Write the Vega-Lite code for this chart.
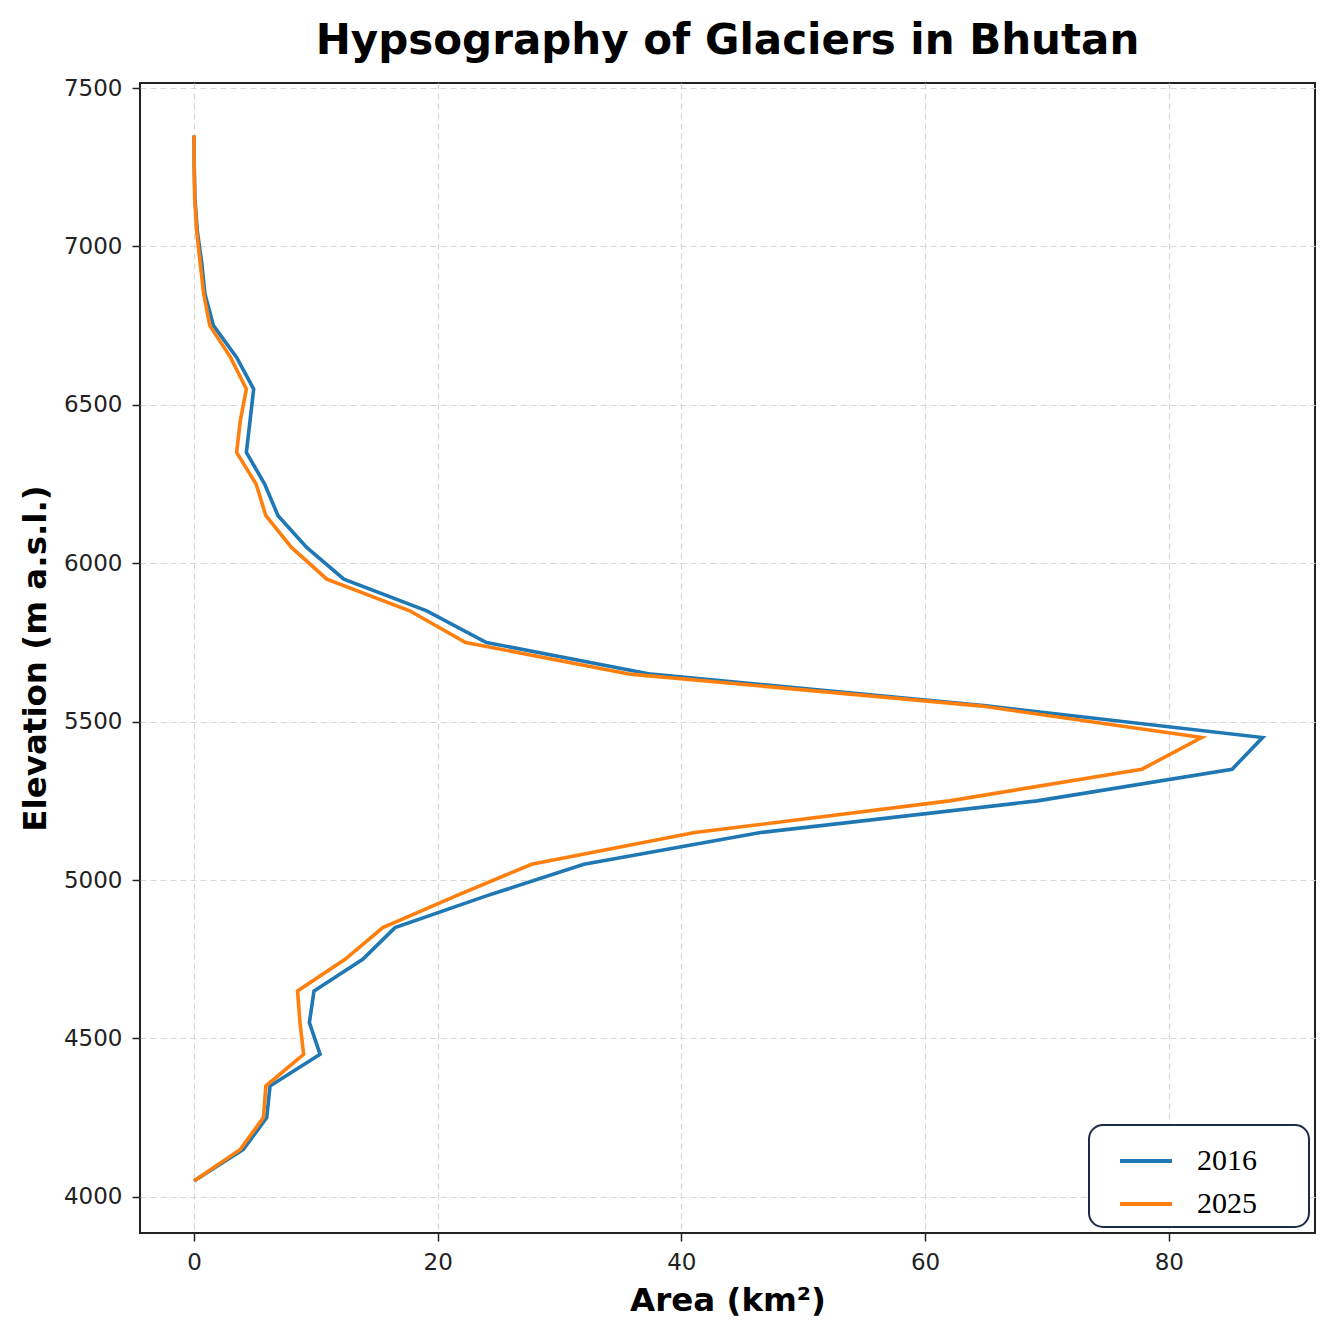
{
  "$schema": "https://vega.github.io/schema/vega-lite/v6.json",
  "autosize": "none",
  "width": 1175,
  "height": 1150,
  "padding": {"left": 140, "top": 83, "right": 26, "bottom": 95},
  "background": "white",
  "title": {
    "text": "Hypsography of Glaciers in Bhutan",
    "font": "DejaVu Sans",
    "fontSize": 42,
    "fontWeight": "bold",
    "color": "black",
    "anchor": "middle",
    "offset": 14
  },
  "config": {
    "view": {"stroke": "#222222", "strokeWidth": 2},
    "axis": {
      "labelFont": "DejaVu Sans",
      "labelFontSize": 23,
      "labelColor": "#222222",
      "titleFont": "DejaVu Sans",
      "titleFontSize": 32.5,
      "titleFontWeight": "bold",
      "titleColor": "black",
      "tickColor": "#222222",
      "tickSize": 8,
      "tickWidth": 1.5,
      "labelPadding": 10,
      "domain": false,
      "grid": true,
      "gridColor": "#d6d6d6",
      "gridDash": [6, 4],
      "gridWidth": 1.2
    },
    "legend": {
      "strokeColor": "#1c2b4a",
      "strokeWidth": 2,
      "cornerRadius": 14,
      "fillColor": "white"
    }
  },
  "data": {
    "values": [
      {"elev": 4050, "year": "2016", "area": 0.0},
      {"elev": 4150, "year": "2016", "area": 4.05},
      {"elev": 4250, "year": "2016", "area": 5.97},
      {"elev": 4350, "year": "2016", "area": 6.24},
      {"elev": 4450, "year": "2016", "area": 10.35},
      {"elev": 4550, "year": "2016", "area": 9.47},
      {"elev": 4650, "year": "2016", "area": 9.85},
      {"elev": 4750, "year": "2016", "area": 13.85},
      {"elev": 4850, "year": "2016", "area": 16.5},
      {"elev": 4950, "year": "2016", "area": 24.0},
      {"elev": 5050, "year": "2016", "area": 32.0},
      {"elev": 5150, "year": "2016", "area": 46.5},
      {"elev": 5250, "year": "2016", "area": 69.2},
      {"elev": 5350, "year": "2016", "area": 85.2},
      {"elev": 5450, "year": "2016", "area": 87.7},
      {"elev": 5550, "year": "2016", "area": 65.0},
      {"elev": 5650, "year": "2016", "area": 37.5},
      {"elev": 5750, "year": "2016", "area": 24.0},
      {"elev": 5850, "year": "2016", "area": 19.1},
      {"elev": 5950, "year": "2016", "area": 12.3},
      {"elev": 6050, "year": "2016", "area": 9.25},
      {"elev": 6150, "year": "2016", "area": 6.9},
      {"elev": 6250, "year": "2016", "area": 5.8},
      {"elev": 6350, "year": "2016", "area": 4.3},
      {"elev": 6450, "year": "2016", "area": 4.6},
      {"elev": 6550, "year": "2016", "area": 4.9},
      {"elev": 6650, "year": "2016", "area": 3.5},
      {"elev": 6750, "year": "2016", "area": 1.6},
      {"elev": 6850, "year": "2016", "area": 0.9},
      {"elev": 6950, "year": "2016", "area": 0.63},
      {"elev": 7050, "year": "2016", "area": 0.27},
      {"elev": 7150, "year": "2016", "area": 0.08},
      {"elev": 7250, "year": "2016", "area": 0.02},
      {"elev": 7350, "year": "2016", "area": 0.0},
      {"elev": 4050, "year": "2025", "area": 0.0},
      {"elev": 4150, "year": "2025", "area": 3.8},
      {"elev": 4250, "year": "2025", "area": 5.7},
      {"elev": 4350, "year": "2025", "area": 5.9},
      {"elev": 4450, "year": "2025", "area": 9.0},
      {"elev": 4550, "year": "2025", "area": 8.7},
      {"elev": 4650, "year": "2025", "area": 8.5},
      {"elev": 4750, "year": "2025", "area": 12.4},
      {"elev": 4850, "year": "2025", "area": 15.5},
      {"elev": 4950, "year": "2025", "area": 21.5},
      {"elev": 5050, "year": "2025", "area": 27.7},
      {"elev": 5150, "year": "2025", "area": 41.1},
      {"elev": 5250, "year": "2025", "area": 62.0},
      {"elev": 5350, "year": "2025", "area": 77.8},
      {"elev": 5450, "year": "2025", "area": 82.7},
      {"elev": 5550, "year": "2025", "area": 64.5},
      {"elev": 5650, "year": "2025", "area": 35.8},
      {"elev": 5750, "year": "2025", "area": 22.3},
      {"elev": 5850, "year": "2025", "area": 17.7},
      {"elev": 5950, "year": "2025", "area": 10.9},
      {"elev": 6050, "year": "2025", "area": 8.0},
      {"elev": 6150, "year": "2025", "area": 5.9},
      {"elev": 6250, "year": "2025", "area": 5.1},
      {"elev": 6350, "year": "2025", "area": 3.5},
      {"elev": 6450, "year": "2025", "area": 3.8},
      {"elev": 6550, "year": "2025", "area": 4.3},
      {"elev": 6650, "year": "2025", "area": 3.0},
      {"elev": 6750, "year": "2025", "area": 1.3},
      {"elev": 6850, "year": "2025", "area": 0.8},
      {"elev": 6950, "year": "2025", "area": 0.5},
      {"elev": 7050, "year": "2025", "area": 0.22},
      {"elev": 7150, "year": "2025", "area": 0.06},
      {"elev": 7250, "year": "2025", "area": 0.02},
      {"elev": 7350, "year": "2025", "area": 0.0}
    ]
  },
  "mark": {"type": "line", "strokeWidth": 3.6, "strokeJoin": "miter"},
  "encoding": {
    "x": {
      "field": "area",
      "type": "quantitative",
      "scale": {"domain": [-4.43, 92.0], "nice": false, "zero": false},
      "axis": {"values": [0, 20, 40, 60, 80], "format": "d", "title": "Area (km²)", "titlePadding": 10}
    },
    "y": {
      "field": "elev",
      "type": "quantitative",
      "scale": {"domain": [3886, 7516], "nice": false, "zero": false},
      "axis": {"values": [4000, 4500, 5000, 5500, 6000, 6500, 7000, 7500], "format": "d", "title": "Elevation (m a.s.l.)", "titlePadding": 11}
    },
    "order": {"field": "elev", "type": "quantitative"},
    "color": {
      "field": "year",
      "type": "nominal",
      "scale": {"domain": ["2016", "2025"], "range": ["#1f77b4", "#ff7f0e"]},
      "legend": {
        "title": "\u00a0",
        "titleOrient": "right",
        "titleFontSize": 30,
        "titlePadding": 44,
        "orient": "bottom-right",
        "offset": 6,
        "padding": 8,
        "symbolOffset": 21,
        "symbolType": "stroke",
        "symbolSize": 2704,
        "symbolStrokeWidth": 4,
        "labelFont": "Liberation Serif",
        "labelFontSize": 30,
        "labelColor": "black",
        "labelOffset": 23,
        "rowPadding": -19
      }
    }
  }
}
